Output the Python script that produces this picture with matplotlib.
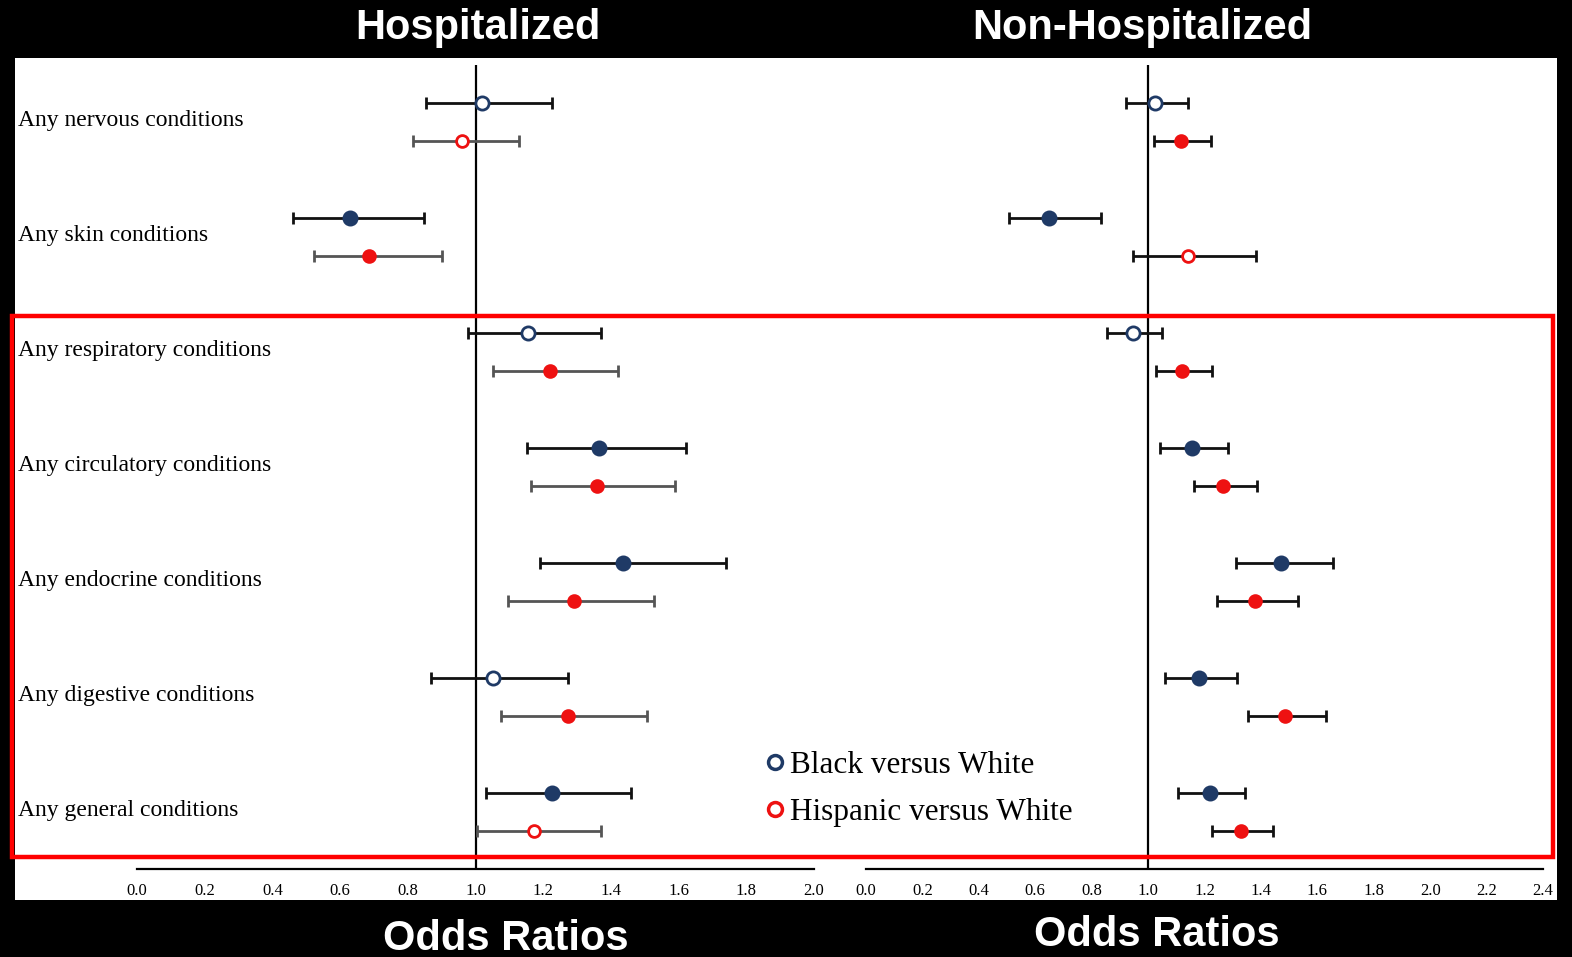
import matplotlib.pyplot as plt
from matplotlib.patches import Rectangle
from matplotlib.lines import Line2D

# ---------------------------------- data ----------------------------------
conditions = ['Any nervous conditions', 'Any skin conditions', 'Any respiratory conditions',
              'Any circulatory conditions', 'Any endocrine conditions',
              'Any digestive conditions', 'Any general conditions']

# Hospitalized
hosp_black = [1.02, 0.63, 1.155, 1.365, 1.435, 1.052, 1.226]
hosp_black_lo = [0.854, 0.461, 0.978, 1.152, 1.191, 0.869, 1.031]
hosp_black_hi = [1.226, 0.848, 1.371, 1.622, 1.740, 1.273, 1.459]
hosp_black_open = [True, False, True, False, False, True, False]

hosp_hisp = [0.96, 0.685, 1.22, 1.359, 1.291, 1.273, 1.173]
hosp_hisp_lo = [0.815, 0.523, 1.052, 1.164, 1.096, 1.075, 1.004]
hosp_hisp_hi = [1.128, 0.901, 1.421, 1.589, 1.527, 1.507, 1.371]
hosp_hisp_open = [True, False, False, False, False, False, True]

# Non-Hospitalized
non_black = [1.025, 0.649, 0.947, 1.156, 1.472, 1.181, 1.220]
non_black_lo = [0.922, 0.507, 0.855, 1.043, 1.312, 1.060, 1.106]
non_black_hi = [1.142, 0.833, 1.050, 1.284, 1.656, 1.316, 1.344]
non_black_open = [True, False, True, False, False, False, False]

non_hisp = [1.117, 1.142, 1.121, 1.266, 1.379, 1.486, 1.330]
non_hisp_lo = [1.021, 0.947, 1.028, 1.163, 1.245, 1.355, 1.227]
non_hisp_hi = [1.223, 1.383, 1.227, 1.387, 1.532, 1.631, 1.443]
non_hisp_open = [False, True, False, False, False, False, False]

hosp_ticks = [0.0, 0.2, 0.4, 0.6, 0.8, 1.0, 1.2, 1.4, 1.6, 1.8, 2.0]
non_ticks = [0.0, 0.2, 0.4, 0.6, 0.8, 1.0, 1.2, 1.4, 1.6, 1.8, 2.0, 2.2, 2.4]

NAVY = '#1f3a66'
RED = '#ee1111'
W, H = 1572, 957
serif = ['Liberation Serif', 'DejaVu Serif']
sans = ['Liberation Sans', 'DejaVu Sans']

fig = plt.figure(figsize=(W / 100, H / 100), dpi=100, facecolor='black')

# white panel
fig.add_artist(Rectangle((15 / W, 1 - 900 / H), (1557 - 15) / W, (900 - 58) / H,
                         transform=fig.transFigure, facecolor='white', edgecolor='none', zorder=0))


def px_axes(x0, x1, y0, y1):
    return fig.add_axes([x0 / W, 1 - y1 / H, (x1 - x0) / W, (y1 - y0) / H])


def draw_panel(ax, xmax, ticks, b, blo, bhi, bopen, h, hlo, hhi, hopen, hisp_bar, labels):
    ax.set_facecolor('none')
    ax.set_xlim(0, xmax)
    # row 0 at pixel 103, 115 px between rows
    ax.set_ylim(6.661, -0.330)
    for s in ['top', 'right', 'left']:
        ax.spines[s].set_visible(False)
    ax.spines['bottom'].set_linewidth(1.6)
    ax.set_yticks([])
    ax.set_xticks(ticks)
    ax.set_xticklabels(['%.1f' % t for t in ticks], fontfamily=serif, fontsize=12)
    ax.tick_params(axis='x', length=0, pad=10)
    ax.axvline(1.0, color='black', lw=1.6, zorder=1)

    for i in range(len(b)):
        yb = i
        yh = i + 0.33
        ax.errorbar(b[i], yb, xerr=[[b[i] - blo[i]], [bhi[i] - b[i]]], fmt='none',
                    ecolor='#111111', elinewidth=2, capsize=4, capthick=2, zorder=2, clip_on=False)
        ax.errorbar(h[i], yh, xerr=[[h[i] - hlo[i]], [hhi[i] - h[i]]], fmt='none',
                    ecolor=hisp_bar, elinewidth=2, capsize=4, capthick=2, zorder=2, clip_on=False)
        ax.plot(b[i], yb, 'o', ms=9.5, mec=NAVY, mew=2,
                mfc='white' if bopen[i] else NAVY, zorder=3, clip_on=False)
        ax.plot(h[i], yh, 'o', ms=8.5, mec=RED, mew=2,
                mfc='white' if hopen[i] else RED, zorder=3, clip_on=False)
        if labels:
            ax.text((18 - 137) / 338.5, yb + 0.15, conditions[i], fontfamily=serif, fontsize=17,
                    ha='left', va='center', clip_on=False)


ax1 = px_axes(137, 814, 65, 869)
draw_panel(ax1, 2.0, hosp_ticks, hosp_black, hosp_black_lo, hosp_black_hi, hosp_black_open,
           hosp_hisp, hosp_hisp_lo, hosp_hisp_hi, hosp_hisp_open, '#555555', True)

ax2 = px_axes(866, 1543, 65, 869)
draw_panel(ax2, 2.4, non_ticks, non_black, non_black_lo, non_black_hi, non_black_open,
           non_hisp, non_hisp_lo, non_hisp_hi, non_hisp_open, '#111111', False)

# red highlight box
fig.add_artist(Rectangle((12 / W, 1 - 857 / H), (1553 - 12) / W, (857 - 316) / H,
                         transform=fig.transFigure, facecolor='none', edgecolor='#ff0000',
                         lw=3.2, zorder=5))

# legend
handles = [Line2D([], [], ls='none', marker='o', ms=10, mfc='white', mec=NAVY, mew=2.5),
           Line2D([], [], ls='none', marker='o', ms=10, mfc='white', mec=RED, mew=2.5)]
fig.legend(handles, ['Black versus White', 'Hispanic versus White'],
           loc='center left', bbox_to_anchor=(728 / W, 1 - 789 / H),
           prop={'family': serif, 'size': 22.5}, frameon=False,
           handletextpad=-0.1, labelspacing=0.55, handlelength=1.2)

# titles
for txt, x in [('Hospitalized', 478), ('Non-Hospitalized', 1142)]:
    fig.text(x / W, 1 - 28 / H, txt, color='white', fontsize=30, fontweight='bold',
             fontfamily=sans, ha='center', va='center')
for x, y in [(506, 939), (1157, 935)]:
    fig.text(x / W, 1 - y / H, 'Odds Ratios', color='white', fontsize=30, fontweight='bold',
             fontfamily=sans, ha='center', va='center')

fig.savefig('out.png', dpi=100, facecolor='black')
